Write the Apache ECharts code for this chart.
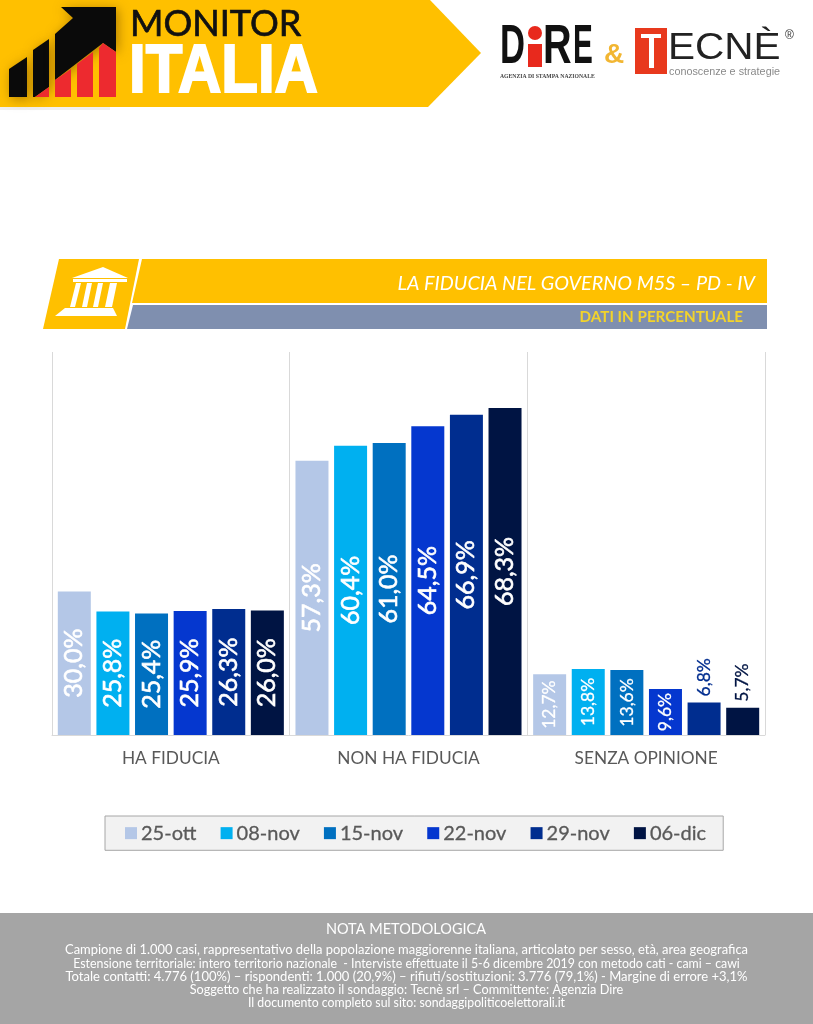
<!DOCTYPE html>
<html><head><meta charset="utf-8">
<style>html,body{margin:0;padding:0;background:#fff}#c{width:813px;height:1024px}</style>
<script src="https://cdn.jsdelivr.net/npm/echarts@6/dist/echarts.min.js"></script>
</head><body><div id="c"></div>
<script>
const categories = ['HA FIDUCIA','NON HA FIDUCIA','SENZA OPINIONE'];
const seriesNames = ['25-ott','08-nov','15-nov','22-nov','29-nov','06-dic'];
const seriesColors = ['#B4C7E7','#00B0F0','#0070C0','#0537CF','#002D8F','#001443'];
const v25ott = [30.0,57.3,12.7];
const v08nov = [25.8,60.4,13.8];
const v15nov = [25.4,61.0,13.6];
const v22nov = [25.9,64.5,9.6];
const v29nov = [26.3,66.9,6.8];
const v06dic = [26.0,68.3,5.7];
const seriesValues = [v25ott,v08nov,v15nov,v22nov,v29nov,v06dic];
const titleText = 'LA FIDUCIA NEL GOVERNO M5S – PD - IV';
const subtitleText = 'DATI IN PERCENTUALE';
const noteTitle = 'NOTA METODOLOGICA';
const noteLines = [
 'Campione di 1.000 casi, rappresentativo della popolazione maggiorenne italiana, articolato per sesso, età, area geografica',
 'Estensione territoriale: intero territorio nazionale  - Interviste effettuate il 5-6 dicembre 2019 con metodo cati - cami – cawi',
 'Totale contatti: 4.776 (100%) – rispondenti: 1.000 (20,9%) – rifiuti/sostituzioni: 3.776 (79,1%) - Margine di errore +3,1%',
 'Soggetto che ha realizzato il sondaggio: Tecnè srl – Committente: Agenzia Dire',
 'Il documento completo sul sito: sondaggipoliticoelettorali.it'
];
const FONT='Lato';
const SHADOW={shadowBlur:12,shadowColor:'rgba(110,70,0,0.55)',shadowOffsetX:2,shadowOffsetY:2};
const poly=(pts,fill,st)=>({type:'polygon',shape:{points:pts},style:Object.assign({fill},st||{})});
const rect=(x,y,w,h,fill)=>({type:'rect',shape:{x,y,width:w,height:h},style:{fill}});
const txt=(x,y,text,size,fill,o)=>{o=o||{};return {type:'text',x,y,scaleX:o.sx||1,scaleY:o.sy||1,style:{text,fontSize:size,fill,fontFamily:o.ff||FONT,fontWeight:o.w||'normal',fontStyle:o.st||'normal',align:o.a||'left',verticalAlign:'middle',stroke:o.bc,lineWidth:o.bw||0,shadowColor:o.sc,shadowBlur:o.sb||0,shadowOffsetX:o.so||0,shadowOffsetY:o.so||0}}};

const graphics=[
 // banner
 poly([[0,0],[430,0],[481,53],[428,107],[0,107]],'#FFC000'),
 rect(0,107,110,3,'#F0F0F0'),
 // logo: black bars and arrow
 poly([[9,97],[9,69],[27,57],[27,97]],'#0A0A0A',SHADOW),
 poly([[33,97],[33,50],[49,39],[49,87],[35,97]],'#0A0A0A',SHADOW),
 poly([[55,80],[55,34],[73,18],[61,7],[116,7],[116,52],[103,43]],'#0A0A0A',SHADOW),
 // logo: red bars
 poly([[35,97],[49,87],[49,97]],'#ED2A2F'),
 poly([[55,97],[55,80],[71,69],[71,97]],'#ED2A2F'),
 poly([[77,97],[77,64],[93,52],[93,97]],'#ED2A2F'),
 poly([[99,97],[99,48],[103,43],[116,52],[116,97]],'#ED2A2F'),
 txt(130,24,'MONITOR',36,'#111111',{bc:'#111111',bw:0.7}),
 txt(129,73,'ITALIA',69,'#FFFFFF',{ff:'Liberation Sans',w:'bold',sx:0.87,bc:'#FFFFFF',bw:2,sc:'rgba(90,60,0,0.6)',sb:4,so:2}),
 // Dire logo
 txt(500,48,'D',55,'#111111',{ff:'Liberation Sans',w:'bold',sx:0.63}),
 {type:'circle',shape:{cx:535,cy:33,r:7},style:{fill:'#E8291D'}},
 rect(528,44,14,23,'#E8291D'),
 txt(543,48,'R',55,'#111111',{ff:'Liberation Sans',w:'bold',sx:0.72}),
 txt(573,48,'E',55,'#111111',{ff:'Liberation Sans',w:'bold',sx:0.54}),
 txt(500,77,'AGENZIA DI STAMPA NAZIONALE',5.7,'#444444',{ff:'Liberation Serif',w:'bold'}),
 txt(604,55,'&',28,'#F2B632',{ff:'Liberation Sans',w:'bold'}),
 // Tecne logo
 rect(635,28,32,46,'#E8391D'),
 rect(641,34,20,4,'#FFFFFF'),
 rect(649,34,5,34,'#FFFFFF'),
 txt(668,49,'ECNÈ',37.5,'#222222',{ff:'Liberation Sans',sx:1.08}),
 txt(785,36,'®',12,'#333333',{ff:'Liberation Sans'}),
 txt(669,72,'conoscenze e strategie',10.8,'#8A8A8A',{ff:'Liberation Sans'}),
 // title band
 poly([[59,259],[139,259],[125,329],[43,329]],'#FFC000'),
 poly([[142,259],[767,259],[767,303],[132,303]],'#FFC000'),
 poly([[133,305],[767,305],[767,329],[127,329]],'#7F8FAF'),
 // temple icon
 poly([[103,267],[128,278],[72,278]],'#FFFFFF'),
 rect(73,279,54,3,'#FFFFFF'),
 poly([[76,283],[81,283],[75,307],[70,307]],'#FFFFFF'),
 poly([[87,283],[92,283],[87,307],[82,307]],'#FFFFFF'),
 poly([[98,283],[103,283],[98,307],[93,307]],'#FFFFFF'),
 poly([[110,283],[117,283],[112,307],[105,307]],'#FFFFFF'),
 poly([[65,308],[113,308],[117,316],[55,316]],'#FFFFFF'),
 txt(755,284,titleText,19.8,'#FFFFFF',{a:'right',st:'italic'}),
 txt(743,317,subtitleText,15.2,'#F2D32B',{a:'right',w:'bold'}),
 // footer
 rect(0,913,813,111,'#A5A5A5'),
 txt(406,929,noteTitle,14.5,'#FFFFFF',{a:'center'})
];
const noteY=[950,963.5,977,990,1003];
const noteFit=[1,0.955,1.007,0.98,0.95];
noteLines.forEach((l,i)=>graphics.push(txt(406.5,noteY[i],l,12.95,'#FFFFFF',{a:'center',sx:noteFit[i]})));

const fmt=v=>v.toFixed(1).replace('.',',')+'%';
const series=seriesNames.map((name,si)=>({
  name,type:'bar',barWidth:33,barGap:'17%',
  itemStyle:{color:seriesColors[si]},
  data:seriesValues[si].map((v,ci)=>{
    const small=ci===2;
    const outside=v<8;
    const lblColor=outside?seriesColors[si]:'#FFFFFF';
    return {value:v,label:{show:true,formatter:fmt(v),rotate:90,
      position:outside?'top':'inside',align:outside?'left':'center',verticalAlign:'middle',
      distance:outside?6:0,
      fontFamily:FONT,fontSize:small?17.5:25,fontWeight:'normal',
      color:lblColor,textBorderColor:lblColor,textBorderWidth:small?0.3:0.6}};
  })
}));

const chart=echarts.init(document.getElementById('c'),null,{renderer:'canvas'});
chart.setOption({
  animation:false,
  backgroundColor:'#FFFFFF',
  grid:{left:52,right:48,top:352,bottom:289,containLabel:false},
  xAxis:{type:'category',data:categories,
    axisTick:{show:false},
    axisLine:{show:true,lineStyle:{color:'#D9D9D9',width:1}},
    splitLine:{show:true,lineStyle:{color:'#D9D9D9',width:1}},
    axisLabel:{fontFamily:FONT,fontSize:17.3,color:'#595959',margin:15}},
  yAxis:{type:'value',min:0,max:80,show:false,splitLine:{show:false}},
  legend:{data:seriesNames,left:105,top:816,itemWidth:12,itemHeight:12,itemGap:24,icon:'rect',
    backgroundColor:'#F2F2F2',borderColor:'#A6A6A6',borderWidth:1,
    padding:[7,17,7,20],
    textStyle:{fontFamily:FONT,fontSize:20,color:'#595959',padding:[3,0,0,-1],textBorderColor:'#595959',textBorderWidth:0.3}},
  graphic:{elements:graphics},
  series
});
</script></body></html>
